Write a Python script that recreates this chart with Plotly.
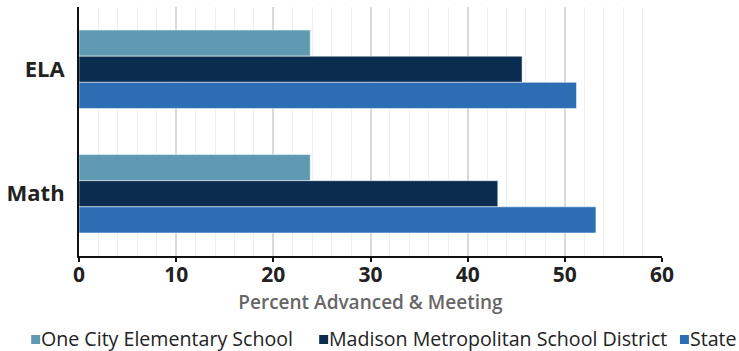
import plotly.graph_objects as go

subjects = ["ELA", "Math"]
one_city = [23.8, 23.8]
madison = [45.6, 43.1]
state = [51.2, 53.2]

series = [
    ("One City Elementary School", one_city, "#5f9ab3"),
    ("Madison Metropolitan School District", madison, "#0a2c4e"),
    ("State", state, "#2c6db4"),
]

# plot area in pixels (for placing the hand-made legend)
L, R, T, B = 77, 77, 7, 95
W, H = 739, 351
pw, ph = W - L - R, H - T - B


def px_x(x):
    return (x - L) / pw


def px_y(y):
    return (H - B - y) / ph


fig = go.Figure()
for name, vals, color in series:
    fig.add_trace(go.Bar(
        y=subjects, x=vals, name=name, orientation="h",
        marker=dict(color=color, line=dict(color="rgba(255,255,255,0.5)", width=1)),
        showlegend=False,
    ))

# legend drawn as keys + labels so it fits on one line like the original
key_x = [29, 318, 680]
text_x = [38, 327, 689]
for (name, _, color), kx, tx in zip(series, key_x, text_x):
    fig.add_shape(type="rect", xref="paper", yref="paper",
                  x0=px_x(kx), x1=px_x(kx + 9), y0=px_y(344), y1=px_y(335),
                  fillcolor=color, line=dict(width=0))
    fig.add_annotation(text=name, xref="paper", yref="paper",
                       x=px_x(tx), y=px_y(338), xanchor="left", yanchor="middle",
                       showarrow=False, borderpad=0,
                       font=dict(size=19.6, family="Open Sans", color="#222222"))

fig.update_layout(
    width=W, height=H,
    barmode="group",
    bargap=0.37,
    bargroupgap=0,
    margin=dict(l=L, r=R, t=T, b=B),
    paper_bgcolor="white",
    plot_bgcolor="white",
    font=dict(family="Open Sans", color="#222222"),
    showlegend=False,
    xaxis=dict(
        range=[0, 60], dtick=10,
        showgrid=True, gridcolor="#d9d9d9", gridwidth=1.5,
        minor=dict(dtick=2, showgrid=True, gridcolor="#efefef", gridwidth=1),
        showline=True, linecolor="#111111", linewidth=2,
        ticks="outside", ticklen=4, tickcolor="#111111", tickwidth=2,
        ticklabelstandoff=-5,
        tickfont=dict(size=21, family="Open Sans", color="#222222", weight="bold"),
        title=dict(text="Percent Advanced & Meeting", standoff=8,
                   font=dict(size=19, color="#666666", weight=600)),
        zeroline=False,
    ),
    yaxis=dict(
        autorange="reversed",
        showline=True, linecolor="#111111", linewidth=2,
        ticks="", ticklabelstandoff=8,
        tickfont=dict(size=22, family="Open Sans", color="#222222", weight="bold"),
    ),
)

fig.write_html("out.html", config={"displayModeBar": False},
               post_script="document.body.style.margin='0';")
